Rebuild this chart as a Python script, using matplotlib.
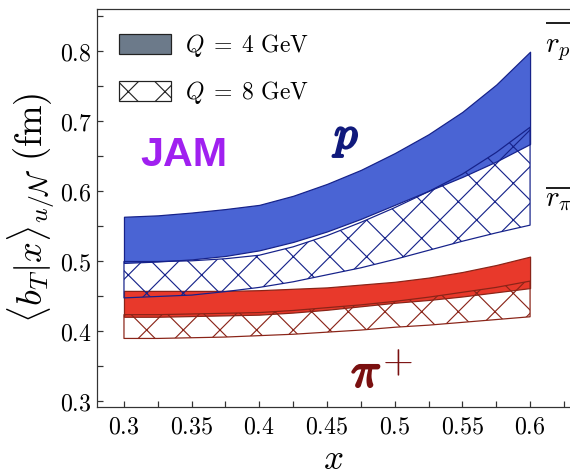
import matplotlib
matplotlib.use("Agg")
import matplotlib.pyplot as plt
import matplotlib.patheffects as pe
from matplotlib.patches import Patch
from matplotlib.ticker import MultipleLocator, FuncFormatter

plt.rcParams['mathtext.fontset'] = 'cm'
plt.rcParams['hatch.linewidth'] = 0.75

# --- datos: <b_T|x> en fm para u en proton y pion ---
x = [0.3, 0.325, 0.35, 0.375, 0.4, 0.425, 0.45, 0.475, 0.5, 0.525, 0.55, 0.575, 0.6]

p_q4_sup = [0.563, 0.565, 0.569, 0.574, 0.580, 0.593, 0.610, 0.630, 0.654, 0.681, 0.713, 0.752, 0.799]
p_q4_inf = [0.497, 0.499, 0.502, 0.507, 0.515, 0.527, 0.542, 0.560, 0.580, 0.600, 0.620, 0.642, 0.667]
p_q8_sup = [0.499, 0.499, 0.500, 0.503, 0.508, 0.520, 0.536, 0.555, 0.576, 0.599, 0.624, 0.655, 0.691]
p_q8_inf = [0.447, 0.449, 0.451, 0.456, 0.462, 0.470, 0.480, 0.490, 0.502, 0.515, 0.528, 0.540, 0.551]

pi_q4_sup = [0.457, 0.457, 0.457, 0.457, 0.458, 0.460, 0.462, 0.466, 0.470, 0.476, 0.484, 0.494, 0.506]
pi_q4_inf = [0.420, 0.420, 0.421, 0.422, 0.423, 0.426, 0.430, 0.435, 0.440, 0.444, 0.449, 0.455, 0.461]
pi_q8_sup = [0.423, 0.423, 0.424, 0.425, 0.426, 0.429, 0.433, 0.437, 0.442, 0.448, 0.455, 0.462, 0.471]
pi_q8_inf = [0.389, 0.389, 0.390, 0.391, 0.393, 0.395, 0.398, 0.401, 0.405, 0.408, 0.412, 0.416, 0.420]

# radios de carga marcados a la derecha
radios = [0.84, 0.604]
radios_txt = [r'$r_p$', r'$r_\pi$']
radios_base = [0.799, 0.577]

azul, azul_borde = '#4a64d4', '#16228a'
rojo, rojo_borde = '#e8392b', '#8a2418'

DPI = 110
fig = plt.figure(figsize=(570 / DPI, 476 / DPI), dpi=DPI)
ax = fig.add_axes([0.170, 0.145, 0.830, 0.836])

# bandas Q = 4 GeV (relleno)
ax.fill_between(x, p_q4_inf, p_q4_sup, facecolor=azul, edgecolor=azul_borde, lw=0.8, zorder=2)
ax.fill_between(x, pi_q4_inf, pi_q4_sup, facecolor=rojo, edgecolor=rojo_borde, lw=0.8, zorder=2)
# bandas Q = 8 GeV (rayado)
ax.fill_between(x, p_q8_inf, p_q8_sup, facecolor='none', edgecolor=azul_borde, hatch='x', lw=0.8, zorder=3)
ax.fill_between(x, pi_q8_inf, pi_q8_sup, facecolor='none', edgecolor=rojo_borde, hatch='x', lw=0.8, zorder=3)

ax.set_xlim(0.28, 0.6295)
ax.set_ylim(0.291, 0.86)

for r, txt, base in zip(radios, radios_txt, radios_base):
    ax.plot([0.6124, 0.64], [r, r], color='#222222', lw=1.3, clip_on=False)
    ax.text(0.6108, base, txt, fontsize=19, ha='left', va='baseline')

negrita = lambda c: [pe.withStroke(linewidth=1.6, foreground=c)]
ax.text(0.3118, 0.651, 'JAM', color='#a020f0', fontsize=27, fontweight='bold',
        family='Liberation Sans', ha='left', va='center')
ax.text(0.465, 0.661, r'$p$', color='#101a7c', fontsize=30, ha='center', va='baseline',
        path_effects=negrita('#101a7c'))
ax.text(0.479, 0.32, r'$\pi$', color='#7a1010', fontsize=32, ha='center', va='baseline',
        path_effects=negrita('#7a1010'))
ax.text(0.5016, 0.355, r'$+$', color='#7a1010', fontsize=26, ha='center', va='center')

# ejes
ax.xaxis.set_major_locator(MultipleLocator(0.05))
ax.xaxis.set_minor_locator(MultipleLocator(0.025))
ax.yaxis.set_major_locator(MultipleLocator(0.1))
ax.yaxis.set_minor_locator(MultipleLocator(0.05))
fmt = FuncFormatter(lambda v, pos: f'${v:g}$')
ax.xaxis.set_major_formatter(fmt)
ax.yaxis.set_major_formatter(fmt)
ax.tick_params(which='both', direction='in', length=4, width=0.8, color='#333333', labelsize=15.7)
ax.tick_params(axis='x', pad=5)
ax.tick_params(axis='y', pad=3.3)
ax.spines['right'].set_visible(False)
for s in ['left', 'bottom', 'top']:
    ax.spines[s].set_linewidth(0.8)
    ax.spines[s].set_color('#333333')

ax.set_xlabel(r'$x$', fontsize=23, labelpad=2)
ax.set_ylabel(r'$\langle b_T|x\rangle_{u/\mathcal{N}}\ (\mathrm{fm})$', fontsize=24)
ax.yaxis.set_label_coords(-0.085, 0.5)

manijas = [Patch(facecolor='#6c7a8a', edgecolor='#222222', lw=0.8),
           Patch(facecolor='white', edgecolor='#222222', hatch='x', lw=0.8)]
ax.legend(manijas, [r'$Q\;=\;4\ \mathrm{GeV}$', r'$Q\;=\;8\ \mathrm{GeV}$'], loc='upper left',
          bbox_to_anchor=(0.046, 0.942), borderpad=0, borderaxespad=0, frameon=False,
          fontsize=15.5, handlelength=2.2, handleheight=0.95, handletextpad=0.6, labelspacing=0.85)

fig.savefig('out.png', dpi=DPI)
